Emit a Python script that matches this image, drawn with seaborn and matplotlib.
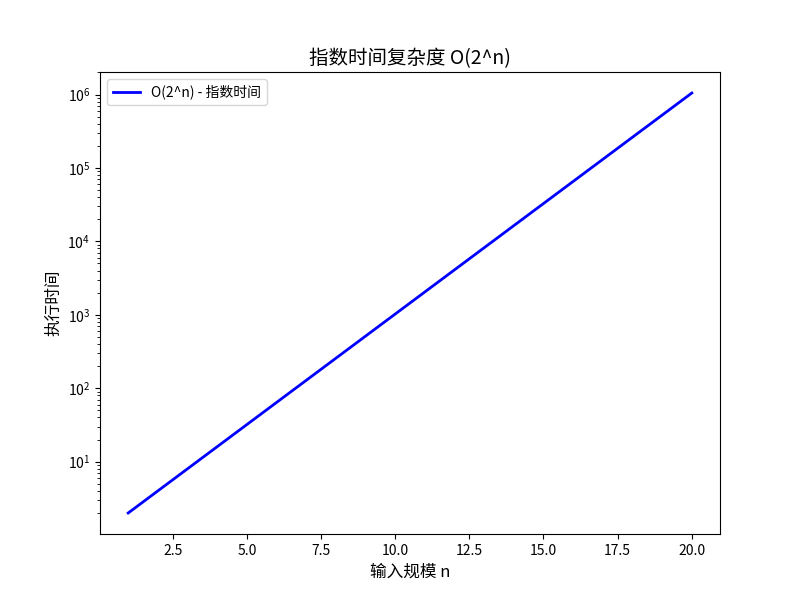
import numpy as np
import pandas as pd
import matplotlib
matplotlib.use("Agg")
import matplotlib.pyplot as plt
import seaborn as sns

plt.rcParams['font.family'] = ['Noto Sans CJK SC', 'DejaVu Sans']
plt.rcParams['axes.unicode_minus'] = False

n_values = [1, 2, 3, 4, 5, 6, 7, 8, 9, 10, 11, 12, 13, 14, 15, 16, 17, 18, 19, 20]
times = [2, 4, 8, 16, 32, 64, 128, 256, 512, 1024, 2048, 4096, 8192, 16384,
         32768, 65536, 131072, 262144, 524288, 1048576]
series_label = "O(2^n) - 指数时间"

df = pd.DataFrame({"n": n_values, "t": times})

fig, ax = plt.subplots(figsize=(8, 6), dpi=100)
sns.lineplot(data=df, x="n", y="t", ax=ax, color="blue", linewidth=2, label=series_label)
ax.set_yscale("log")
ax.set_title("指数时间复杂度 O(2^n)", fontsize=14)
ax.set_xlabel("输入规模 n", fontsize=12)
ax.set_ylabel("执行时间", fontsize=12)
ax.legend(loc="upper left")

fig.savefig("out.png")
